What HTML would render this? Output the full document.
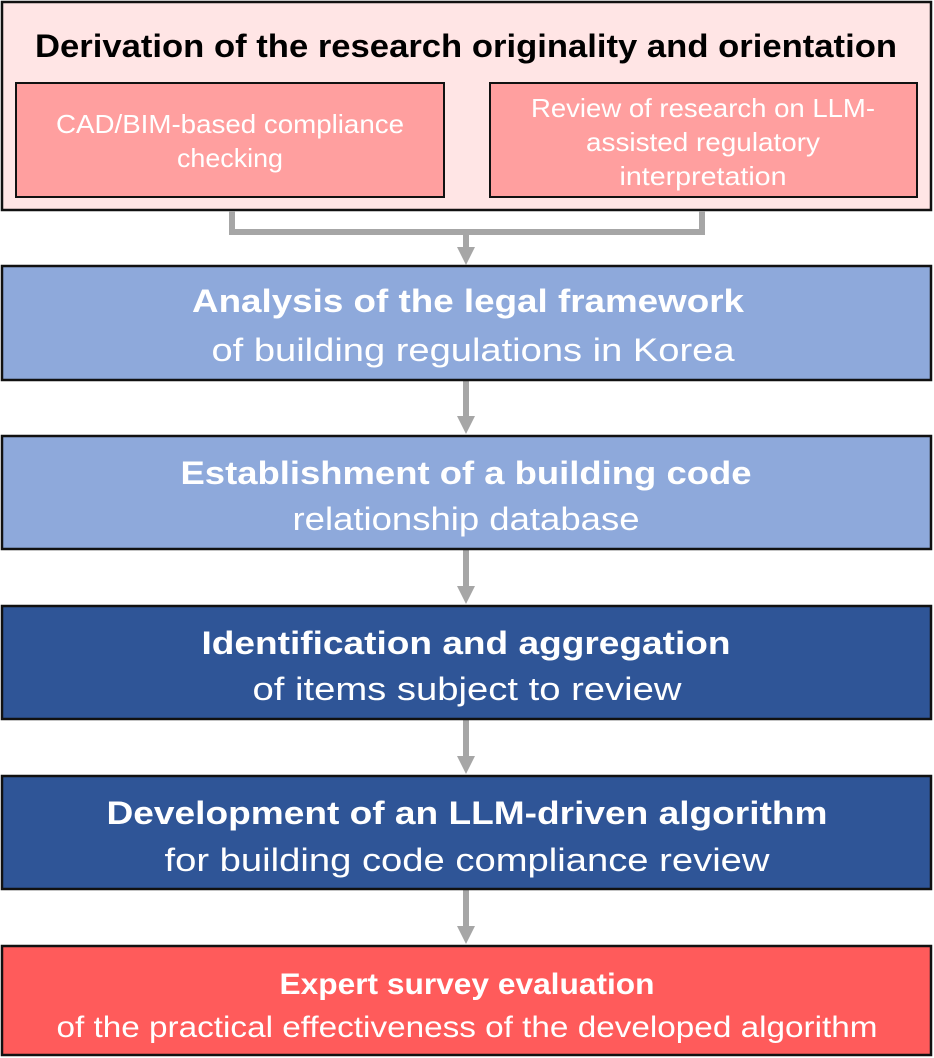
<!DOCTYPE html>
<html><head><meta charset="utf-8"><style>
html,body{margin:0;padding:0;background:#fff;}
svg{display:block;}
text{font-family:"Liberation Sans","DejaVu Sans",sans-serif;}
</style></head><body>
<svg width="934" height="1058" viewBox="0 0 934 1058" xmlns="http://www.w3.org/2000/svg">
<defs>
<g id="ah"><polygon points="-9,0 9,0 0,18" fill="#A6A6A6"/></g>
</defs>
<rect x="2" y="2" width="929" height="208" fill="#FFE5E5" stroke="#111" stroke-width="2.5"/>
<text x="466" y="57" text-anchor="middle" font-size="32" font-weight="bold" fill="#000" textLength="862" lengthAdjust="spacingAndGlyphs">Derivation of the research originality and orientation</text>
<rect x="16" y="83" width="428" height="114" fill="#FF9F9F" stroke="#111" stroke-width="2"/>
<rect x="490" y="83" width="427" height="114" fill="#FF9F9F" stroke="#111" stroke-width="2"/>
<g fill="#fff" font-size="26" text-anchor="middle">
<text x="230" y="133" textLength="348" lengthAdjust="spacingAndGlyphs">CAD/BIM-based compliance</text>
<text x="230" y="167" textLength="106" lengthAdjust="spacingAndGlyphs">checking</text>
<text x="703" y="117" textLength="344" lengthAdjust="spacingAndGlyphs">Review of research on LLM-</text>
<text x="703" y="151" textLength="234" lengthAdjust="spacingAndGlyphs">assisted regulatory</text>
<text x="703" y="185" textLength="167" lengthAdjust="spacingAndGlyphs">interpretation</text>
</g>
<polyline points="232,211 232,232 702,232 702,211" fill="none" stroke="#A6A6A6" stroke-width="6"/>
<line x1="466" y1="232" x2="466" y2="250" stroke="#A6A6A6" stroke-width="6"/>
<use href="#ah" x="466" y="247"/>
<line x1="466" y1="381" x2="466" y2="418" stroke="#A6A6A6" stroke-width="6"/><use href="#ah" x="466" y="416"/>
<line x1="466" y1="550" x2="466" y2="588" stroke="#A6A6A6" stroke-width="6"/><use href="#ah" x="466" y="586"/>
<line x1="466" y1="720" x2="466" y2="758" stroke="#A6A6A6" stroke-width="6"/><use href="#ah" x="466" y="756"/>
<line x1="466" y1="890" x2="466" y2="928" stroke="#A6A6A6" stroke-width="6"/><use href="#ah" x="466" y="926"/>
<rect x="2" y="266" width="929" height="114" fill="#8EA9DB" stroke="#111" stroke-width="2.5"/>
<rect x="2" y="436" width="929" height="113" fill="#8EA9DB" stroke="#111" stroke-width="2.5"/>
<rect x="2" y="606" width="929" height="113" fill="#2F5597" stroke="#111" stroke-width="2.5"/>
<rect x="2" y="776" width="929" height="113" fill="#2F5597" stroke="#111" stroke-width="2.5"/>
<rect x="2" y="946" width="929" height="109" fill="#FF5B5B" stroke="#111" stroke-width="2.5"/>
<g fill="#fff" font-size="32" text-anchor="middle">
<text x="468" y="312" font-weight="bold" textLength="552" lengthAdjust="spacingAndGlyphs">Analysis of the legal framework</text>
<text x="473" y="361" textLength="523" lengthAdjust="spacingAndGlyphs">of building regulations in Korea</text>
<text x="466" y="484" font-weight="bold" textLength="571" lengthAdjust="spacingAndGlyphs">Establishment of a building code</text>
<text x="466" y="530" textLength="347" lengthAdjust="spacingAndGlyphs">relationship database</text>
<text x="466" y="654" font-weight="bold" textLength="529" lengthAdjust="spacingAndGlyphs">Identification and aggregation</text>
<text x="467" y="700" textLength="429" lengthAdjust="spacingAndGlyphs">of items subject to review</text>
<text x="467" y="824" font-weight="bold" textLength="721" lengthAdjust="spacingAndGlyphs">Development of an LLM-driven algorithm</text>
<text x="467" y="871" textLength="605" lengthAdjust="spacingAndGlyphs">for building code compliance review</text>
<text x="467" y="994" font-weight="bold" font-size="30" textLength="375" lengthAdjust="spacingAndGlyphs">Expert survey evaluation</text>
<text x="467" y="1037" font-size="30" textLength="821" lengthAdjust="spacingAndGlyphs">of the practical effectiveness of the developed algorithm</text>
</g>
</svg>
</body></html>
